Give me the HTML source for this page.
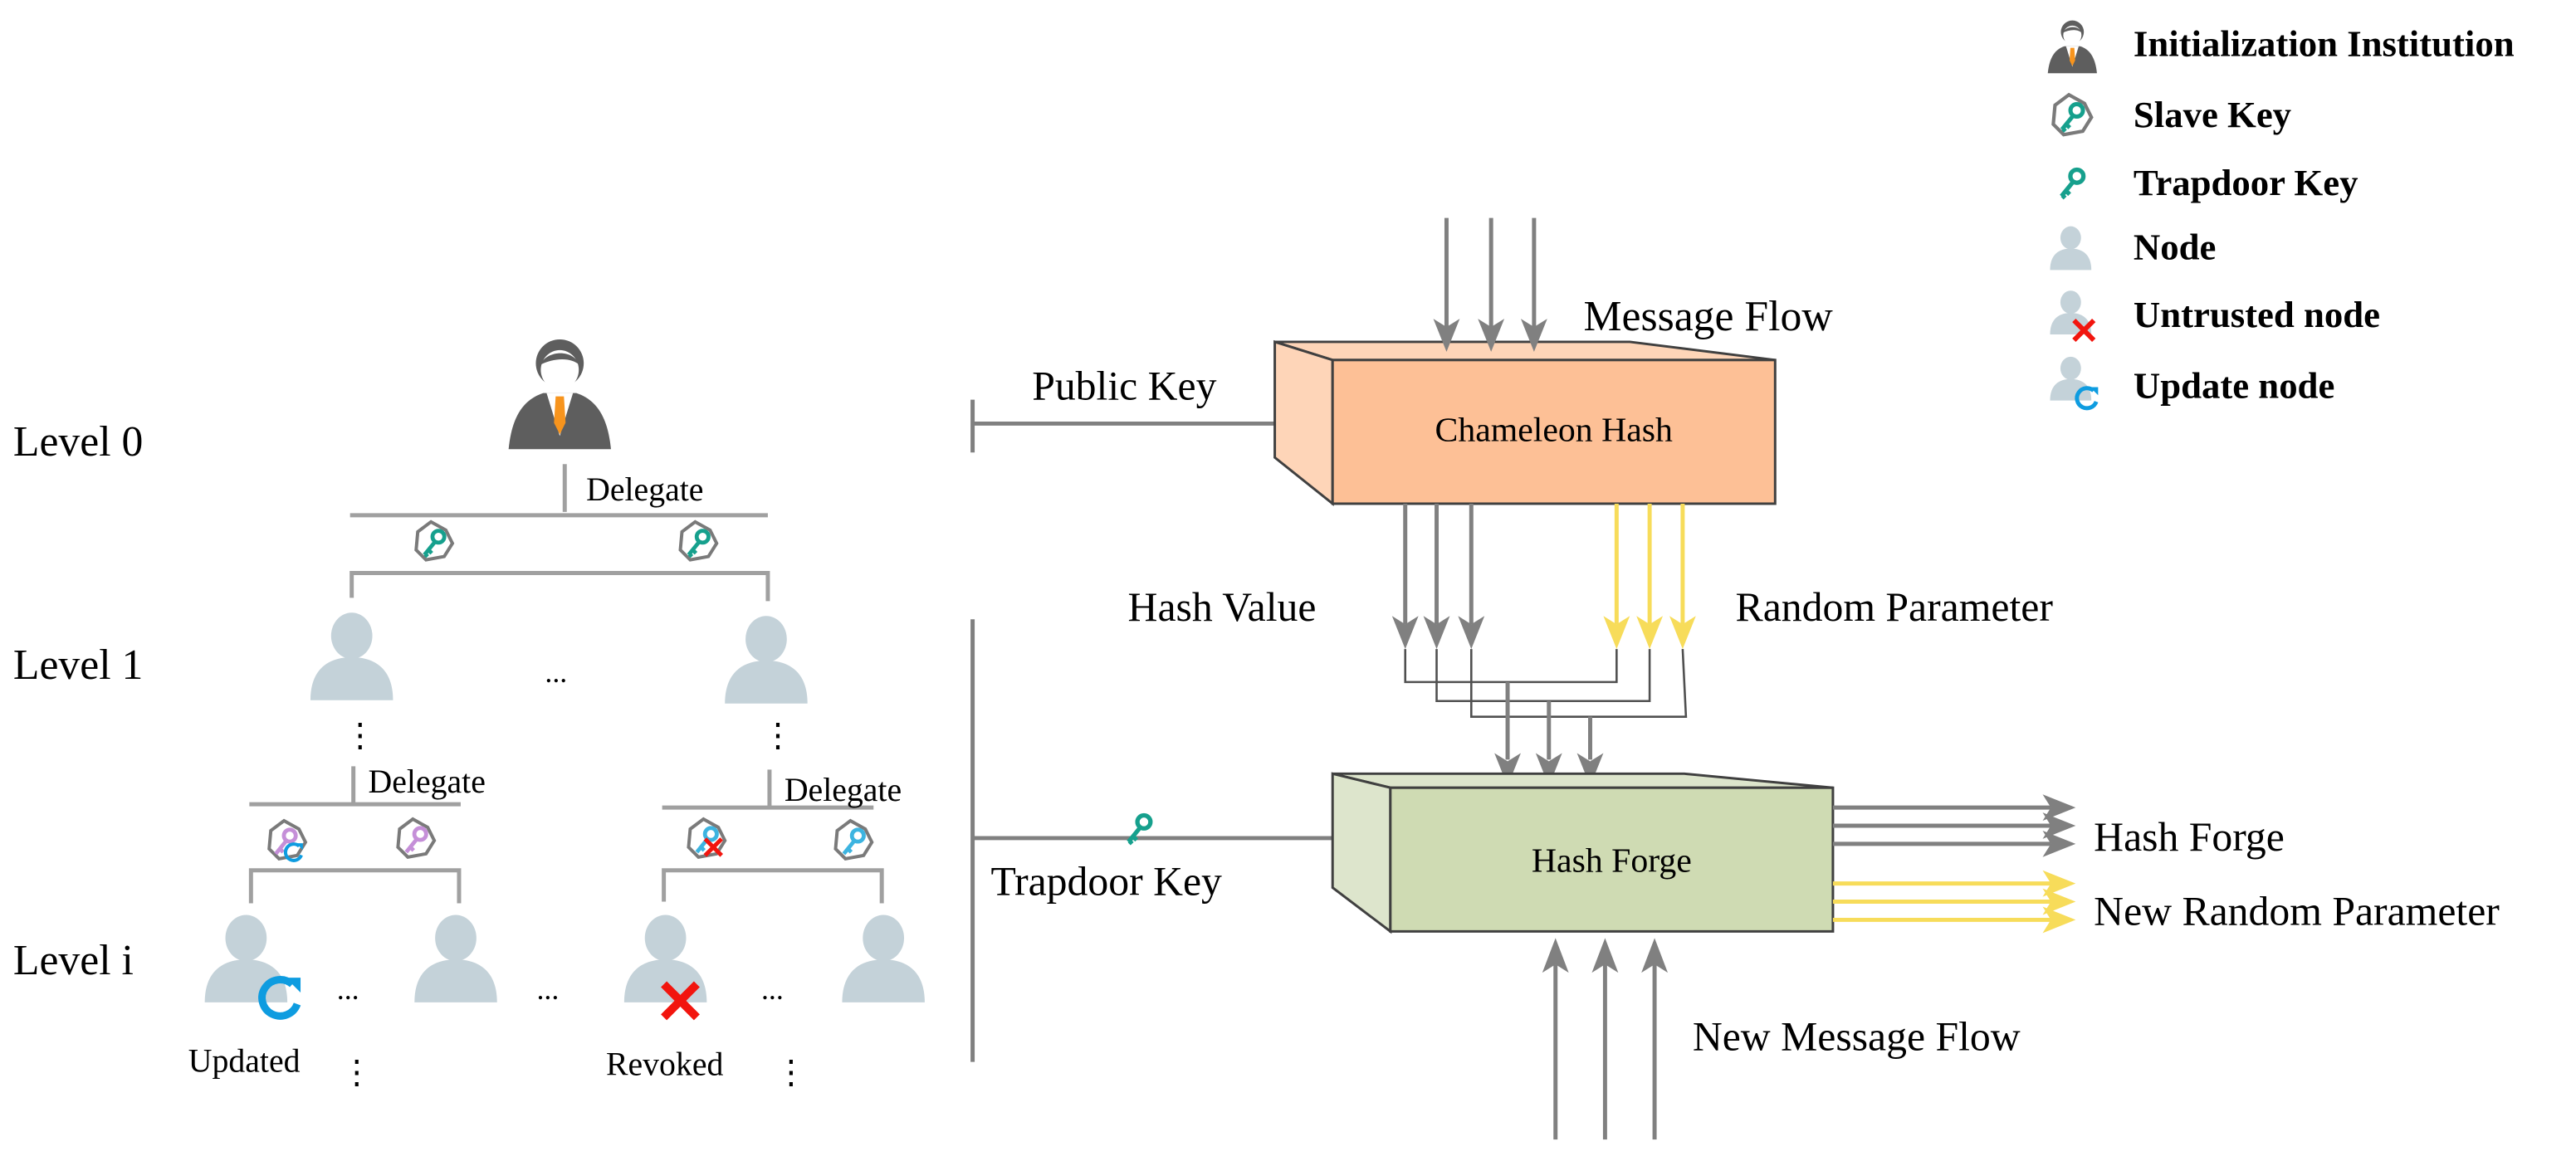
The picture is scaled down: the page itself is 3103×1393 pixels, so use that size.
<!DOCTYPE html>
<html><head><meta charset="utf-8"><style>
html,body{margin:0;padding:0;background:#fff;}
svg{display:block;}
text{font-family:"Liberation Serif",serif;fill:#000;}
</style></head><body>
<svg width="3103" height="1393" viewBox="0 0 1560 700" preserveAspectRatio="none" xmlns="http://www.w3.org/2000/svg">
<defs>
<g id="person">
 <ellipse cx="0" cy="-14" rx="12.5" ry="14" fill="#c4d2d9"/>
 <path d="M-25,25 C-25,6 -14,-1 0,-1 C14,-1 25,6 25,25 Z" fill="#c4d2d9"/>
</g>
<g id="mgr">
 <path d="M-31,34 C-29,14 -22,4 -10,0 L10,0 C22,4 29,14 31,34 Z" fill="#5e5e5e"/>
 <path d="M-8,0 L0,26 L8,0 Z" fill="#fff"/>
 <path d="M-2.5,2 L2.5,2 L3.5,18 L0,25 L-3.5,18 Z" fill="#f7941d"/>
 <circle cx="0" cy="-18" r="14.5" fill="#5e5e5e"/>
 <ellipse cx="0" cy="-14" rx="11.5" ry="12" fill="#fff"/>
 <path d="M-12,-17 C-8,-26 8,-27 12,-17 C6,-22 -4,-21 -12,-17 Z" fill="#5e5e5e"/>
</g>
<g id="keyT"><circle cx="2.5" cy="-3" r="3.6" fill="none" stroke="#16a08d" stroke-width="2.4"/><path d="M0.5,0 L-6,8 M-3.5,5 L-1.5,7 M-5.5,7.5 L-4,9" stroke="#16a08d" stroke-width="2.4" fill="none"/></g>
<g id="keyP"><circle cx="2.5" cy="-3" r="3.6" fill="none" stroke="#c58fd8" stroke-width="2.4"/><path d="M0.5,0 L-6,8 M-3.5,5 L-1.5,7" stroke="#c58fd8" stroke-width="2.4" fill="none"/></g>
<g id="keyB"><circle cx="2.5" cy="-3" r="3.6" fill="none" stroke="#3db4e0" stroke-width="2.4"/><path d="M0.5,0 L-6,8 M-3.5,5 L-1.5,7" stroke="#3db4e0" stroke-width="2.4" fill="none"/></g>
<path id="hept" d="M-2,-12 L7,-7 L11,1 L6,9 L-5,11 L-11,5 L-10,-6 Z" fill="#fff" stroke="#7a7a7a" stroke-width="2"/>
<g id="redx"><path d="M-10,-10 L10,10 M10,-10 L-10,10" stroke="#f2150e" stroke-width="5"/></g>
<g id="upd"><path d="M7,-8 A11,11 0 1 0 10,4" fill="none" stroke="#0e9ce0" stroke-width="4.5"/><path d="M3,-12 L12,-12 L12,-3 Z" fill="#0e9ce0"/></g>
</defs>

<text x="8" y="276" font-size="26">Level 0</text>
<text x="8" y="411" font-size="26">Level 1</text>
<text x="8" y="590" font-size="26">Level i</text>

<use href="#mgr" x="339" y="238"/>
<g stroke="#a0a0a0" stroke-width="2.5" fill="none">
 <path d="M342,281 V310"/>
 <path d="M212,312 H465"/>
 <path d="M213,362 V347 H465 V364"/>
 <path d="M214,464 V486"/>
 <path d="M151,487 H279"/>
 <path d="M466,466 V488"/>
 <path d="M401,489 H529"/>
 <path d="M152,547 V527 H278 V547"/>
 <path d="M402,546 V527 H534 V547"/>
</g>
<text x="355" y="303" font-size="20">Delegate</text>
<text x="223" y="480" font-size="20">Delegate</text>
<text x="475" y="485" font-size="20">Delegate</text>

<use href="#hept" x="263" y="328"/><use href="#keyT" x="263" y="328"/>
<use href="#hept" x="423" y="328"/><use href="#keyT" x="423" y="328"/>

<use href="#person" x="213" y="399"/>
<use href="#person" x="464" y="401"/>
<text x="330" y="413" font-size="18">...</text>
<text x="208" y="452" font-size="20">⋮</text>
<text x="461" y="452" font-size="20">⋮</text>

<use href="#hept" x="174" y="509"/><use href="#keyP" x="173" y="509"/>
<g transform="translate(178,516) scale(0.45)"><use href="#upd"/></g>
<use href="#hept" x="252" y="508"/><use href="#keyP" x="252" y="508"/>
<use href="#hept" x="428" y="508"/><use href="#keyB" x="428" y="508"/>
<g transform="translate(432,513) scale(0.5)"><use href="#redx"/></g>
<use href="#hept" x="517" y="509"/><use href="#keyB" x="517" y="509"/>

<use href="#person" x="149" y="582"/>
<use href="#person" x="276" y="582"/>
<use href="#person" x="403" y="582"/>
<use href="#person" x="535" y="582"/>
<use href="#upd" x="170" y="604"/>
<use href="#redx" x="412" y="606"/>
<text x="204" y="605" font-size="18">...</text>
<text x="325" y="605" font-size="18">...</text>
<text x="461" y="605" font-size="18">...</text>
<text x="114" y="649" font-size="20">Updated</text>
<text x="367" y="651" font-size="20">Revoked</text>
<text x="206" y="656" font-size="20">⋮</text>
<text x="469" y="656" font-size="20">⋮</text>

<g stroke="#808080" stroke-width="2.5" fill="none">
 <path d="M589,242 V274"/>
 <path d="M589,256.5 H772"/>
 <path d="M589,375 V643"/>
 <path d="M589,507.5 H808"/>
</g>
<text x="625" y="242" font-size="25">Public Key</text>
<text x="600" y="542" font-size="25">Trapdoor Key</text>
<g transform="translate(690,501) scale(1.1)"><use href="#keyT"/></g>

<path d="M772,207 L987,207 L1075,218 L807,218 Z" fill="#fed5b8" stroke="#404040" stroke-width="1.5"/>
<path d="M772,207 L807,218 L807,305 L772,277 Z" fill="#fed5b8" stroke="#404040" stroke-width="1.5"/>
<rect x="807" y="218" width="268" height="87" fill="#fdc096" stroke="#404040" stroke-width="1.5"/>
<text x="941" y="267" font-size="21" text-anchor="middle">Chameleon Hash</text>

<g stroke="#808080" stroke-width="2.5">
 <path d="M876,132 V198 M903,132 V198 M929,132 V198"/>
</g>
<g fill="#808080">
 <path d="M868,193 L876,213 L884,193 L876,198 Z"/>
 <path d="M895,193 L903,213 L911,193 L903,198 Z"/>
 <path d="M921,193 L929,213 L937,193 L929,198 Z"/>
</g>
<text x="959" y="200" font-size="26">Message Flow</text>

<g stroke="#808080" stroke-width="2.5">
 <path d="M851,305 V378 M870,305 V378 M891,305 V378"/>
</g>
<g stroke="#f7dc5a" stroke-width="2.5">
 <path d="M979,305 V378 M999,305 V378 M1019,305 V378"/>
</g>
<g fill="#808080">
 <path d="M843,373 L851,393 L859,373 L851,378 Z"/>
 <path d="M862,373 L870,393 L878,373 L870,378 Z"/>
 <path d="M883,373 L891,393 L899,373 L891,378 Z"/>
</g>
<g fill="#f7dc5a">
 <path d="M971,373 L979,393 L987,373 L979,378 Z"/>
 <path d="M991,373 L999,393 L1007,373 L999,378 Z"/>
 <path d="M1011,373 L1019,393 L1027,373 L1019,378 Z"/>
</g>
<text x="683" y="376" font-size="25">Hash Value</text>
<text x="1051" y="376" font-size="25">Random Parameter</text>
<g stroke="#505050" stroke-width="1.3" fill="none">
 <path d="M851,393 V413 H979 V393"/>
 <path d="M870,393 V424.5 H999 V393"/>
 <path d="M891,393 V434 H1021 L1019,393"/>
</g>
<g stroke="#808080" stroke-width="2.5">
 <path d="M913,413 V460 M938,424.5 V460 M963,434 V460"/>
</g>
<g fill="#808080">
 <path d="M905,456 L913,476 L921,456 L913,461 Z"/>
 <path d="M930,456 L938,476 L946,456 L938,461 Z"/>
 <path d="M955,456 L963,476 L971,456 L963,461 Z"/>
</g>

<path d="M807,468.5 L1020,468.5 L1110,477 L842,477 Z" fill="#dde5cc" stroke="#404040" stroke-width="1.5"/>
<path d="M807,468.5 L842,477 L842,564 L807,537.5 Z" fill="#dde5cc" stroke="#404040" stroke-width="1.5"/>
<rect x="842" y="477" width="268" height="87" fill="#cfdbb3" stroke="#404040" stroke-width="1.5"/>
<text x="976" y="528" font-size="21" text-anchor="middle">Hash Forge</text>

<g stroke="#808080" stroke-width="2.5">
 <path d="M1110,489 H1242 M1110,500 H1242 M1110,511 H1242"/>
</g>
<g stroke="#f7dc5a" stroke-width="2.5">
 <path d="M1110,535 H1242 M1110,546 H1242 M1110,557 H1242"/>
</g>
<g fill="#808080">
 <path d="M1237,481 L1257,489 L1237,497 L1242,489 Z"/>
 <path d="M1237,492 L1257,500 L1237,508 L1242,500 Z"/>
 <path d="M1237,503 L1257,511 L1237,519 L1242,511 Z"/>
</g>
<g fill="#f7dc5a">
 <path d="M1237,527 L1257,535 L1237,543 L1242,535 Z"/>
 <path d="M1237,538 L1257,546 L1237,554 L1242,546 Z"/>
 <path d="M1237,549 L1257,557 L1237,565 L1242,557 Z"/>
</g>
<text x="1268" y="515" font-size="25">Hash Forge</text>
<text x="1268" y="560" font-size="25">New Random Parameter</text>

<g stroke="#808080" stroke-width="2.5">
 <path d="M942,584 V690 M972,584 V690 M1002,584 V690"/>
</g>
<g fill="#808080">
 <path d="M934,589 L942,568 L950,589 L942,584 Z"/>
 <path d="M964,589 L972,568 L980,589 L972,584 Z"/>
 <path d="M994,589 L1002,568 L1010,589 L1002,584 Z"/>
</g>
<text x="1025" y="636" font-size="25">New Message Flow</text>

<g transform="translate(1255,28) scale(0.48)"><use href="#mgr"/></g>
<g transform="translate(1255,70) scale(1.05)"><use href="#hept"/><use href="#keyT"/></g>
<g transform="translate(1255,110) scale(1.1)"><use href="#keyT"/></g>
<g transform="translate(1254,151) scale(0.5)"><use href="#person"/></g>
<g transform="translate(1254,190) scale(0.5)"><use href="#person"/></g>
<g transform="translate(1262,200) scale(0.6)"><use href="#redx"/></g>
<g transform="translate(1254,230) scale(0.5)"><use href="#person"/></g>
<g transform="translate(1264,241) scale(0.55)"><use href="#upd"/></g>
<g font-size="22.5" font-weight="bold">
 <text x="1292" y="34">Initialization Institution</text>
 <text x="1292" y="77">Slave Key</text>
 <text x="1292" y="118">Trapdoor Key</text>
 <text x="1292" y="157">Node</text>
 <text x="1292" y="198">Untrusted node</text>
 <text x="1292" y="241">Update node</text>
</g>
</svg>
</body></html>
